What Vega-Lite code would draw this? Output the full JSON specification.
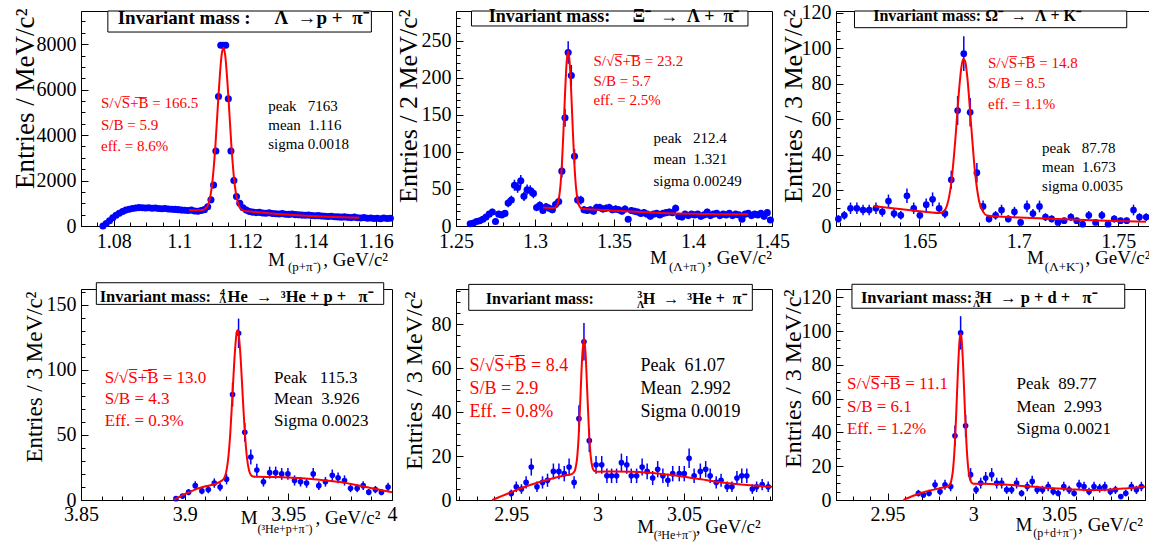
{
"$schema": "https://vega.github.io/schema/vega-lite/v6.json",
"padding": {"left": 10, "top": 2, "right": 0, "bottom": 0},
"background": "white",
"columns": 3,
"align": "none",
"bounds": "flush",
"spacing": {"row": 63, "column": 64},
"config": {
  "view": {"stroke": "black", "strokeWidth": 1},
  "axis": {"grid": false, "domainColor": "black", "domainWidth": 1, "tickColor": "black", "tickWidth": 1, "labelFont": "Liberation Serif", "labelFontSize": 20, "labelColor": "black", "titleFont": "Liberation Serif", "titleColor": "black", "titleFontWeight": "normal", "titleFontSize": 26, "labelFlush": false, "labelOverlap": false},
  "text": {"font": "Liberation Serif"}
},
"datasets": {
"p1": [{"x":1.0767,"y":0},{"x":1.0777,"y":110},{"x":1.0787,"y":230},{"x":1.0797,"y":360},{"x":1.0807,"y":470},{"x":1.0817,"y":560},{"x":1.0827,"y":640},{"x":1.0837,"y":700},{"x":1.0847,"y":740},{"x":1.0857,"y":770},{"x":1.0867,"y":790},{"x":1.0877,"y":810},{"x":1.0887,"y":800},{"x":1.0897,"y":790},{"x":1.0907,"y":800},{"x":1.0917,"y":780},{"x":1.0927,"y":790},{"x":1.0937,"y":770},{"x":1.0947,"y":760},{"x":1.0957,"y":770},{"x":1.0967,"y":750},{"x":1.0977,"y":740},{"x":1.0987,"y":730},{"x":1.0997,"y":720},{"x":1.1007,"y":700},{"x":1.1017,"y":690},{"x":1.1027,"y":680},{"x":1.1037,"y":700},{"x":1.1047,"y":660},{"x":1.1057,"y":650},{"x":1.1067,"y":680},{"x":1.1077,"y":720},{"x":1.1087,"y":850},{"x":1.1097,"y":1150},{"x":1.1105,"y":1800},{"x":1.1112,"y":3300},{"x":1.112,"y":5700},{"x":1.1127,"y":7950},{"x":1.1135,"y":7950},{"x":1.1142,"y":7950},{"x":1.115,"y":5600},{"x":1.1158,"y":3300},{"x":1.1167,"y":2000},{"x":1.1175,"y":1300},{"x":1.1185,"y":1000},{"x":1.1195,"y":800},{"x":1.1205,"y":700},{"x":1.1215,"y":640},{"x":1.1225,"y":610},{"x":1.1235,"y":590},{"x":1.1245,"y":600},{"x":1.1255,"y":570},{"x":1.1265,"y":560},{"x":1.1275,"y":580},{"x":1.1285,"y":550},{"x":1.1295,"y":540},{"x":1.1305,"y":530},{"x":1.1315,"y":545},{"x":1.1325,"y":520},{"x":1.1335,"y":510},{"x":1.1345,"y":530},{"x":1.1355,"y":500},{"x":1.1365,"y":490},{"x":1.1375,"y":480},{"x":1.1385,"y":470},{"x":1.1395,"y":480},{"x":1.1405,"y":460},{"x":1.1415,"y":450},{"x":1.1425,"y":455},{"x":1.1435,"y":440},{"x":1.1445,"y":430},{"x":1.1455,"y":420},{"x":1.1465,"y":430},{"x":1.1475,"y":410},{"x":1.1485,"y":400},{"x":1.1495,"y":390},{"x":1.1505,"y":400},{"x":1.1515,"y":380},{"x":1.1525,"y":370},{"x":1.1535,"y":390},{"x":1.1545,"y":360},{"x":1.1555,"y":350},{"x":1.1565,"y":370},{"x":1.1575,"y":340},{"x":1.1585,"y":350},{"x":1.1595,"y":330},{"x":1.1605,"y":340},{"x":1.1615,"y":320},{"x":1.1625,"y":350},{"x":1.1635,"y":330},{"x":1.1645,"y":340}],
"l1": [{"x":1.103,"y":690},{"x":1.106,"y":690},{"x":1.107,"y":700},{"x":1.108,"y":757},{"x":1.109,"y":1005},{"x":1.11,"y":1765},{"x":1.111,"y":3415},{"x":1.112,"y":5745},{"x":1.113,"y":7570},{"x":1.1135,"y":7843},{"x":1.114,"y":7565},{"x":1.115,"y":5740},{"x":1.116,"y":3400},{"x":1.117,"y":1750},{"x":1.118,"y":980},{"x":1.119,"y":727},{"x":1.12,"y":665},{"x":1.121,"y":650},{"x":1.125,"y":590},{"x":1.13,"y":530},{"x":1.135,"y":480},{"x":1.14,"y":440},{"x":1.145,"y":410},{"x":1.15,"y":380},{"x":1.155,"y":360}],
"p2": [{"x":1.259,"y":3,"e":1.7},{"x":1.261,"y":4,"e":2},{"x":1.263,"y":6,"e":2.4},{"x":1.265,"y":7,"e":2.6},{"x":1.267,"y":9,"e":3},{"x":1.269,"y":12,"e":3.5},{"x":1.271,"y":16,"e":4},{"x":1.273,"y":19,"e":4.4},{"x":1.275,"y":6,"e":2.4},{"x":1.277,"y":16,"e":4},{"x":1.279,"y":15,"e":3.9},{"x":1.281,"y":17,"e":4.1},{"x":1.283,"y":31,"e":5.6},{"x":1.285,"y":35,"e":5.9},{"x":1.287,"y":55,"e":7.4},{"x":1.289,"y":52,"e":7.2},{"x":1.291,"y":61,"e":7.8},{"x":1.293,"y":40,"e":6.3},{"x":1.295,"y":49,"e":7},{"x":1.297,"y":48,"e":6.9},{"x":1.299,"y":44,"e":6.6},{"x":1.301,"y":25,"e":5},{"x":1.303,"y":28,"e":5.3},{"x":1.305,"y":21,"e":4.6},{"x":1.307,"y":26,"e":5.1},{"x":1.309,"y":24,"e":4.9},{"x":1.311,"y":22,"e":4.7},{"x":1.313,"y":29,"e":5.4},{"x":1.315,"y":33,"e":5.7},{"x":1.317,"y":74,"e":8.6},{"x":1.319,"y":146,"e":12.1},{"x":1.321,"y":234,"e":15.3},{"x":1.323,"y":203,"e":14.2},{"x":1.325,"y":94,"e":9.7},{"x":1.327,"y":35,"e":5.9},{"x":1.329,"y":35,"e":5.9},{"x":1.331,"y":22,"e":4.7},{"x":1.333,"y":21,"e":4.6},{"x":1.335,"y":22,"e":4.7},{"x":1.337,"y":20,"e":4.5},{"x":1.339,"y":25,"e":5},{"x":1.341,"y":25,"e":5},{"x":1.343,"y":23,"e":4.8},{"x":1.345,"y":24,"e":4.9},{"x":1.347,"y":25,"e":5},{"x":1.349,"y":22,"e":4.7},{"x":1.351,"y":23,"e":4.8},{"x":1.353,"y":22,"e":4.7},{"x":1.355,"y":20,"e":4.5},{"x":1.357,"y":23,"e":4.8},{"x":1.359,"y":9,"e":3},{"x":1.361,"y":21,"e":4.6},{"x":1.363,"y":20,"e":4.5},{"x":1.365,"y":19,"e":4.4},{"x":1.367,"y":17,"e":4.1},{"x":1.369,"y":18,"e":4.2},{"x":1.371,"y":16,"e":4},{"x":1.373,"y":13,"e":3.6},{"x":1.375,"y":16,"e":4},{"x":1.377,"y":17,"e":4.1},{"x":1.379,"y":15,"e":3.9},{"x":1.381,"y":17,"e":4.1},{"x":1.383,"y":18,"e":4.2},{"x":1.385,"y":19,"e":4.4},{"x":1.387,"y":18,"e":4.2},{"x":1.389,"y":24,"e":4.9},{"x":1.391,"y":13,"e":3.6},{"x":1.393,"y":12,"e":3.5},{"x":1.395,"y":16,"e":4},{"x":1.397,"y":14,"e":3.7},{"x":1.399,"y":16,"e":4},{"x":1.401,"y":15,"e":3.9},{"x":1.403,"y":16,"e":4},{"x":1.405,"y":13,"e":3.6},{"x":1.407,"y":15,"e":3.9},{"x":1.409,"y":19,"e":4.4},{"x":1.411,"y":14,"e":3.7},{"x":1.413,"y":16,"e":4},{"x":1.415,"y":17,"e":4.1},{"x":1.417,"y":14,"e":3.7},{"x":1.419,"y":16,"e":4},{"x":1.421,"y":15,"e":3.9},{"x":1.423,"y":17,"e":4.1},{"x":1.425,"y":14,"e":3.7},{"x":1.427,"y":16,"e":4},{"x":1.429,"y":15,"e":3.9},{"x":1.431,"y":9,"e":3},{"x":1.433,"y":16,"e":4},{"x":1.435,"y":17,"e":4.1},{"x":1.437,"y":14,"e":3.7},{"x":1.439,"y":16,"e":4},{"x":1.441,"y":15,"e":3.9},{"x":1.443,"y":17,"e":4.1},{"x":1.445,"y":13,"e":3.6},{"x":1.447,"y":18,"e":4.2},{"x":1.449,"y":8,"e":2.8}],
"l2": [{"x":1.305,"y":25},{"x":1.308,"y":24.5},{"x":1.311,"y":24.3},{"x":1.312,"y":24.3},{"x":1.313,"y":25.2},{"x":1.314,"y":28},{"x":1.315,"y":35.7},{"x":1.316,"y":52},{"x":1.317,"y":82},{"x":1.318,"y":127},{"x":1.319,"y":178},{"x":1.32,"y":220},{"x":1.321,"y":236},{"x":1.322,"y":219},{"x":1.323,"y":177},{"x":1.324,"y":126},{"x":1.325,"y":81},{"x":1.326,"y":51},{"x":1.327,"y":34.7},{"x":1.328,"y":27},{"x":1.329,"y":24.2},{"x":1.33,"y":23.3},{"x":1.34,"y":21.8},{"x":1.35,"y":20.7},{"x":1.36,"y":19.6},{"x":1.37,"y":18.5},{"x":1.38,"y":17.6},{"x":1.39,"y":16.9},{"x":1.4,"y":16.4},{"x":1.41,"y":16.1},{"x":1.42,"y":15.9},{"x":1.435,"y":15.8}],
"p3": [{"x":1.6092,"y":4,"e":2},{"x":1.6122,"y":6,"e":2.4},{"x":1.6153,"y":10,"e":3.2},{"x":1.6185,"y":10,"e":3.2},{"x":1.6216,"y":9,"e":3},{"x":1.6247,"y":9,"e":3},{"x":1.6281,"y":10,"e":3.2},{"x":1.6313,"y":8,"e":2.8},{"x":1.6344,"y":14,"e":3.7},{"x":1.6372,"y":7,"e":2.6},{"x":1.6406,"y":6,"e":2.4},{"x":1.6437,"y":17,"e":4.1},{"x":1.6471,"y":10,"e":3.2},{"x":1.6502,"y":6,"e":2.4},{"x":1.6534,"y":12,"e":3.5},{"x":1.6566,"y":15,"e":3.9},{"x":1.6599,"y":10,"e":3.2},{"x":1.6628,"y":7,"e":2.6},{"x":1.666,"y":26,"e":5.1},{"x":1.6692,"y":65,"e":8.1},{"x":1.6723,"y":97,"e":9.8},{"x":1.6755,"y":64,"e":8},{"x":1.6789,"y":30,"e":5.5},{"x":1.682,"y":11,"e":3.3},{"x":1.685,"y":4,"e":2},{"x":1.6883,"y":6,"e":2.4},{"x":1.6913,"y":9,"e":3},{"x":1.6947,"y":4,"e":2},{"x":1.6978,"y":8,"e":2.8},{"x":1.7009,"y":2,"e":1.4},{"x":1.7041,"y":11,"e":3.3},{"x":1.7071,"y":7,"e":2.6},{"x":1.7104,"y":11,"e":3.3},{"x":1.7134,"y":5,"e":2.2},{"x":1.7165,"y":4,"e":2},{"x":1.7197,"y":2,"e":1.4},{"x":1.7228,"y":3,"e":1.7},{"x":1.7262,"y":5,"e":2.2},{"x":1.7291,"y":3,"e":1.7},{"x":1.7321,"y":1,"e":1},{"x":1.7352,"y":6,"e":2.4},{"x":1.7386,"y":2,"e":1.4},{"x":1.7418,"y":6,"e":2.4},{"x":1.7449,"y":1,"e":1},{"x":1.748,"y":4,"e":2},{"x":1.7512,"y":3,"e":1.7},{"x":1.7543,"y":3,"e":1.7},{"x":1.7577,"y":9,"e":3},{"x":1.7607,"y":5,"e":2.2},{"x":1.7641,"y":5,"e":2.2}],
"l3": [{"x":1.627,"y":11.2},{"x":1.64,"y":9.6},{"x":1.65,"y":8.3},{"x":1.655,"y":7.7},{"x":1.66,"y":7.3},{"x":1.662,"y":8.1},{"x":1.664,"y":12.1},{"x":1.666,"y":24.2},{"x":1.668,"y":48},{"x":1.67,"y":77.5},{"x":1.671,"y":88.6},{"x":1.672,"y":94.1},{"x":1.673,"y":92.7},{"x":1.674,"y":84.6},{"x":1.676,"y":56.7},{"x":1.678,"y":29.7},{"x":1.68,"y":14.1},{"x":1.682,"y":8.1},{"x":1.684,"y":5.9},{"x":1.69,"y":5.3},{"x":1.7,"y":4.8},{"x":1.72,"y":3.9},{"x":1.74,"y":3.1},{"x":1.764,"y":2.4}],
"p4": [{"x":3.8958,"y":1,"e":1},{"x":3.899,"y":3,"e":1.7},{"x":3.9019,"y":6,"e":2.4},{"x":3.9051,"y":11,"e":3.3},{"x":3.9083,"y":7,"e":2.6},{"x":3.9114,"y":8,"e":2.8},{"x":3.9143,"y":13,"e":3.6},{"x":3.9171,"y":10,"e":3.2},{"x":3.9202,"y":16,"e":4},{"x":3.9231,"y":81,"e":9},{"x":3.926,"y":128,"e":11.3},{"x":3.929,"y":52,"e":7.2},{"x":3.9319,"y":33,"e":5.7},{"x":3.9348,"y":23,"e":4.8},{"x":3.938,"y":14,"e":3.7},{"x":3.941,"y":21,"e":4.6},{"x":3.9439,"y":21,"e":4.6},{"x":3.9468,"y":20,"e":4.5},{"x":3.9498,"y":20,"e":4.5},{"x":3.953,"y":15,"e":3.9},{"x":3.9559,"y":14,"e":3.7},{"x":3.9588,"y":13,"e":3.6},{"x":3.962,"y":20,"e":4.5},{"x":3.9647,"y":11,"e":3.3},{"x":3.9679,"y":14,"e":3.7},{"x":3.9712,"y":19,"e":4.4},{"x":3.974,"y":17,"e":4.1},{"x":3.9771,"y":15,"e":3.9},{"x":3.98,"y":9,"e":3},{"x":3.9832,"y":9,"e":3},{"x":3.9861,"y":11,"e":3.3},{"x":3.9888,"y":6,"e":2.4},{"x":3.992,"y":8,"e":2.8},{"x":3.9949,"y":6,"e":2.4},{"x":3.9981,"y":10,"e":3.2}],
"l4": [{"x":3.895,"y":0.3},{"x":3.9,"y":4.5},{"x":3.905,"y":8},{"x":3.91,"y":10.5},{"x":3.915,"y":12.5},{"x":3.918,"y":15},{"x":3.919,"y":16.6},{"x":3.92,"y":21.2},{"x":3.921,"y":31.8},{"x":3.922,"y":51.2},{"x":3.923,"y":79},{"x":3.924,"y":108.2},{"x":3.925,"y":127.6},{"x":3.9255,"y":130.3},{"x":3.926,"y":127.8},{"x":3.927,"y":108.8},{"x":3.928,"y":79.7},{"x":3.929,"y":52.2},{"x":3.93,"y":33.2},{"x":3.931,"y":23.1},{"x":3.932,"y":19.1},{"x":3.933,"y":18},{"x":3.935,"y":17.8},{"x":3.945,"y":17.6},{"x":3.955,"y":16.8},{"x":3.965,"y":15.5},{"x":3.975,"y":13.8},{"x":3.985,"y":10.8},{"x":3.995,"y":7.5},{"x":4.0,"y":6}],
"p5": [{"x":2.95,"y":3,"e":1.7},{"x":2.9529,"y":6,"e":2.4},{"x":2.9559,"y":5,"e":2.2},{"x":2.9586,"y":8,"e":2.8},{"x":2.9616,"y":15,"e":3.9},{"x":2.9649,"y":6,"e":2.4},{"x":2.9681,"y":8,"e":2.8},{"x":2.971,"y":9,"e":3},{"x":2.9744,"y":13,"e":3.6},{"x":2.9776,"y":13,"e":3.6},{"x":2.9807,"y":12,"e":3.5},{"x":2.9835,"y":15,"e":3.9},{"x":2.9864,"y":8,"e":2.8},{"x":2.9892,"y":37,"e":6.1},{"x":2.9921,"y":72,"e":8.5},{"x":2.9952,"y":27,"e":5.2},{"x":2.9991,"y":16,"e":4},{"x":3.0024,"y":16,"e":4},{"x":3.0054,"y":11,"e":3.3},{"x":3.0081,"y":11,"e":3.3},{"x":3.011,"y":11,"e":3.3},{"x":3.0138,"y":17,"e":4.1},{"x":3.0169,"y":16,"e":4},{"x":3.0195,"y":11,"e":3.3},{"x":3.0226,"y":11,"e":3.3},{"x":3.0258,"y":15,"e":3.9},{"x":3.0287,"y":13,"e":3.6},{"x":3.0319,"y":10,"e":3.2},{"x":3.0348,"y":14,"e":3.7},{"x":3.0378,"y":11,"e":3.3},{"x":3.0407,"y":9,"e":3},{"x":3.0435,"y":12,"e":3.5},{"x":3.0473,"y":12,"e":3.5},{"x":3.0502,"y":12,"e":3.5},{"x":3.053,"y":19,"e":4.4},{"x":3.0559,"y":11,"e":3.3},{"x":3.0595,"y":13,"e":3.6},{"x":3.0626,"y":14,"e":3.7},{"x":3.0652,"y":11,"e":3.3},{"x":3.0687,"y":8,"e":2.8},{"x":3.0715,"y":9,"e":3},{"x":3.075,"y":6,"e":2.4},{"x":3.0778,"y":6,"e":2.4},{"x":3.0807,"y":10,"e":3.2},{"x":3.0835,"y":11,"e":3.3},{"x":3.0864,"y":11,"e":3.3},{"x":3.0896,"y":5,"e":2.2},{"x":3.0921,"y":6,"e":2.4},{"x":3.0953,"y":7,"e":2.6},{"x":3.0988,"y":6,"e":2.4}],
"l5": [{"x":2.939,"y":0},{"x":2.95,"y":3.6},{"x":2.96,"y":6.6},{"x":2.97,"y":9},{"x":2.98,"y":11},{"x":2.985,"y":11.8},{"x":2.986,"y":12.4},{"x":2.987,"y":13.8},{"x":2.988,"y":18.1},{"x":2.989,"y":28.4},{"x":2.99,"y":45.4},{"x":2.991,"y":64},{"x":2.9921,"y":73.5},{"x":2.993,"y":67.1},{"x":2.994,"y":49.5},{"x":2.995,"y":31.6},{"x":2.996,"y":20},{"x":2.997,"y":14.9},{"x":2.998,"y":13.3},{"x":3.0,"y":12.9},{"x":3.01,"y":13},{"x":3.02,"y":12.9},{"x":3.03,"y":12.4},{"x":3.04,"y":11.6},{"x":3.05,"y":10.6},{"x":3.06,"y":9.4},{"x":3.07,"y":8.2},{"x":3.08,"y":7.3},{"x":3.09,"y":6.6},{"x":3.101,"y":6}],
"p6": [{"x":2.968,"y":4,"e":2},{"x":2.9709,"y":3,"e":1.7},{"x":2.9742,"y":4,"e":2},{"x":2.9777,"y":9,"e":3},{"x":2.9806,"y":5,"e":2.2},{"x":2.9835,"y":9,"e":3},{"x":2.9868,"y":8,"e":2.8},{"x":2.9893,"y":38,"e":6.2},{"x":2.9926,"y":99,"e":9.9},{"x":2.9955,"y":44,"e":6.6},{"x":2.9984,"y":15,"e":3.9},{"x":3.0016,"y":6,"e":2.4},{"x":3.0043,"y":10,"e":3.2},{"x":3.0072,"y":13,"e":3.6},{"x":3.0107,"y":15,"e":3.9},{"x":3.0136,"y":10,"e":3.2},{"x":3.0165,"y":10,"e":3.2},{"x":3.0194,"y":6,"e":2.4},{"x":3.0223,"y":6,"e":2.4},{"x":3.0252,"y":10,"e":3.2},{"x":3.0281,"y":4,"e":2},{"x":3.0314,"y":8,"e":2.8},{"x":3.0343,"y":11,"e":3.3},{"x":3.0372,"y":6,"e":2.4},{"x":3.0403,"y":6,"e":2.4},{"x":3.0436,"y":8,"e":2.8},{"x":3.0465,"y":5,"e":2.2},{"x":3.0494,"y":4,"e":2},{"x":3.0527,"y":8,"e":2.8},{"x":3.0558,"y":6,"e":2.4},{"x":3.0587,"y":4,"e":2},{"x":3.0616,"y":9,"e":3},{"x":3.0645,"y":8,"e":2.8},{"x":3.0674,"y":5,"e":2.2},{"x":3.0703,"y":8,"e":2.8},{"x":3.0736,"y":7,"e":2.6},{"x":3.0766,"y":8,"e":2.8},{"x":3.0798,"y":5,"e":2.2},{"x":3.0828,"y":6,"e":2.4},{"x":3.0859,"y":2,"e":1.4},{"x":3.0888,"y":4,"e":2},{"x":3.0921,"y":8,"e":2.8},{"x":3.095,"y":6,"e":2.4},{"x":3.0979,"y":8,"e":2.8}],
"l6": [{"x":2.9593,"y":0},{"x":2.965,"y":2.5},{"x":2.97,"y":4.3},{"x":2.975,"y":5.7},{"x":2.98,"y":6.9},{"x":2.985,"y":8},{"x":2.986,"y":8.7},{"x":2.987,"y":10.8},{"x":2.988,"y":16.5},{"x":2.989,"y":29.1},{"x":2.99,"y":50.2},{"x":2.991,"y":75.8},{"x":2.992,"y":94.9},{"x":2.9926,"y":98.5},{"x":2.993,"y":96.9},{"x":2.994,"y":80.8},{"x":2.995,"y":55.7},{"x":2.996,"y":33.3},{"x":2.997,"y":19.2},{"x":2.998,"y":12.6},{"x":2.999,"y":10.3},{"x":3.0,"y":9.7},{"x":3.01,"y":9.5},{"x":3.02,"y":9},{"x":3.03,"y":8.2},{"x":3.04,"y":7.4},{"x":3.05,"y":6.8},{"x":3.06,"y":6.2},{"x":3.07,"y":5.9},{"x":3.08,"y":6.2},{"x":3.09,"y":7},{"x":3.1,"y":7.9}]
},
"concat": [
{
"width": 311, "height": 215,
"resolve": {"axis": {"x": "independent", "y": "independent"}},
"layer": [
 {"data": {"name": "p1"}, "mark": {"type": "point", "filled": true, "size": 50, "color": "#0000ff", "opacity": 1},
  "encoding": {
   "x": {"field": "x", "type": "quantitative", "scale": {"domain": [1.07, 1.165], "nice": false, "zero": false}, "axis": {"orient": "bottom", "values": [1.08,1.1,1.12,1.14,1.16], "format": "~r", "title": null, "tickSize": -7, "labelPadding": 12}},
   "y": {"field": "y", "type": "quantitative", "scale": {"domain": [0, 9460], "nice": false, "zero": false}, "axis": {"orient": "left", "values": [0,2000,4000,6000,8000], "format": "~r", "title": "Entries / MeV/c²", "titleFontSize": 27, "tickSize": -7, "labelPadding": 12, "titleX": -48, "titleY": -3, "titleAngle": 270, "titleAlign": "right", "titleBaseline": "alphabetic"}}
  }},
 {"data": {"name": "l1"}, "mark": {"type": "line", "color": "#ff0000", "strokeWidth": 2, "interpolate": "monotone"},
  "encoding": {
   "x": {"field": "x", "type": "quantitative", "axis": {"orient": "bottom", "values": [1.07,1.075,1.085,1.09,1.095,1.105,1.11,1.115,1.125,1.13,1.135,1.145,1.15,1.155,1.165], "labels": false, "domain": false, "tickSize": -4, "title": null}},
   "y": {"field": "y", "type": "quantitative", "axis": {"orient": "left", "values": [500,1000,1500,2500,3000,3500,4500,5000,5500,6500,7000,7500,8500,9000], "labels": false, "domain": false, "tickSize": -4, "title": null}}
  }},
 {"data": {"values": [{}]}, "mark": {"type": "rect", "fill": "white", "stroke": "black", "strokeWidth": 1},
  "encoding": {"x": {"datum": 1.0782, "type": "quantitative", "axis": null}, "x2": {"datum": 1.1587}, "y": {"datum": 8535, "type": "quantitative", "axis": null}, "y2": {"datum": 9460}}},
 {"data": {"values": [{}]}, "mark": {"type": "text", "text": "Invariant mass :\u00a0\u00a0\u00a0\u00a0\u00a0Λ\u00a0\u00a0→p +\u00a0\u00a0π⁻", "align": "left", "baseline": "alphabetic", "fontSize": 19, "fontWeight": "bold", "color": "black"},
  "encoding": {"x": {"datum": 1.0812, "type": "quantitative", "axis": null}, "y": {"datum": 8874, "type": "quantitative", "axis": null}}},
 {"data": {"values": [{}]}, "mark": {"type": "text", "text": ["S/√S̅+̅B̅ = 166.5", "S/B = 5.9", "eff. = 8.6%"], "lineHeight": 21.5, "align": "left", "baseline": "alphabetic", "fontSize": 15, "color": "#ff0000"},
  "encoding": {"x": {"datum": 1.0761, "type": "quantitative", "axis": null}, "y": {"datum": 5191, "type": "quantitative", "axis": null}}},
 {"data": {"values": [{}]}, "mark": {"type": "text", "text": ["peak\u00a0\u00a0\u00a07163", "mean\u00a0\u00a01.116", "sigma 0.0018"], "lineHeight": 19, "align": "left", "baseline": "alphabetic", "fontSize": 15, "color": "black"},
  "encoding": {"x": {"datum": 1.1272, "type": "quantitative", "axis": null}, "y": {"datum": 5059, "type": "quantitative", "axis": null}}},
 {"data": {"values": [{}]}, "mark": {"type": "text", "text": "M", "align": "left", "baseline": "alphabetic", "fontSize": 19, "color": "black"},
  "encoding": {"x": {"datum": 1.1271, "type": "quantitative", "axis": null}, "y": {"datum": -1760, "type": "quantitative", "axis": null}}},
 {"data": {"values": [{}]}, "mark": {"type": "text", "text": "(p+π⁻)", "align": "left", "baseline": "alphabetic", "fontSize": 13, "color": "black"},
  "encoding": {"x": {"datum": 1.1332, "type": "quantitative", "axis": null}, "y": {"datum": -1980, "type": "quantitative", "axis": null}}},
 {"data": {"values": [{}]}, "mark": {"type": "text", "text": ", GeV/c²", "align": "right", "baseline": "alphabetic", "fontSize": 19, "color": "black"},
  "encoding": {"x": {"datum": 1.1638, "type": "quantitative", "axis": null}, "y": {"datum": -1760, "type": "quantitative", "axis": null}}}
]
},
{
"width": 316, "height": 215,
"resolve": {"axis": {"x": "independent", "y": "independent"}},
"layer": [
 {"data": {"name": "p2"}, "mark": {"type": "errorbar", "color": "#0000ff", "thickness": 1.5},
  "encoding": {"x": {"field": "x", "type": "quantitative", "axis": null}, "y": {"field": "y", "type": "quantitative", "axis": null}, "yError": {"field": "e"}}},
 {"data": {"name": "p2"}, "mark": {"type": "point", "filled": true, "size": 50, "color": "#0000ff", "opacity": 1},
  "encoding": {
   "x": {"field": "x", "type": "quantitative", "scale": {"domain": [1.25, 1.45], "nice": false, "zero": false}, "axis": {"orient": "bottom", "values": [1.25,1.3,1.35,1.4,1.45], "format": "~r", "title": null, "tickSize": -7, "labelPadding": 12}},
   "y": {"field": "y", "type": "quantitative", "scale": {"domain": [0, 290], "nice": false, "zero": false}, "axis": {"orient": "left", "values": [0,50,100,150,200,250], "format": "~r", "title": "Entries / 2 MeV/c²", "tickSize": -7, "labelPadding": 12, "titleX": -40, "titleY": -2, "titleAngle": 270, "titleAlign": "right", "titleBaseline": "alphabetic"}}
  }},
 {"data": {"name": "l2"}, "mark": {"type": "line", "color": "#ff0000", "strokeWidth": 2, "interpolate": "monotone"},
  "encoding": {
   "x": {"field": "x", "type": "quantitative", "axis": {"orient": "bottom", "values": [1.26,1.27,1.28,1.29,1.31,1.32,1.33,1.34,1.36,1.37,1.38,1.39,1.41,1.42,1.43,1.44], "labels": false, "domain": false, "tickSize": -4, "title": null}},
   "y": {"field": "y", "type": "quantitative", "axis": {"orient": "left", "values": [10,20,30,40,60,70,80,90,110,120,130,140,160,170,180,190,210,220,230,240,260,270,280], "labels": false, "domain": false, "tickSize": -4, "title": null}}
  }},
 {"data": {"values": [{}]}, "mark": {"type": "rect", "fill": "white", "stroke": "black", "strokeWidth": 1},
  "encoding": {"x": {"datum": 1.2598, "type": "quantitative", "axis": null}, "x2": {"datum": 1.4348}, "y": {"datum": 269.8, "type": "quantitative", "axis": null}, "y2": {"datum": 290}}},
 {"data": {"values": [{}]}, "mark": {"type": "text", "text": "Invariant mass:\u00a0\u00a0\u00a0\u00a0\u00a0Ξ⁻\u00a0\u00a0→\u00a0\u00a0Λ +\u00a0\u00a0π⁻", "align": "left", "baseline": "alphabetic", "fontSize": 18, "fontWeight": "bold", "color": "black"},
  "encoding": {"x": {"datum": 1.2707, "type": "quantitative", "axis": null}, "y": {"datum": 275.6, "type": "quantitative", "axis": null}}},
 {"data": {"values": [{}]}, "mark": {"type": "text", "text": ["S/√S̅+̅B̅ = 23.2", "S/B = 5.7", "eff. = 2.5%"], "lineHeight": 19.5, "align": "left", "baseline": "alphabetic", "fontSize": 15, "color": "#ff0000"},
  "encoding": {"x": {"datum": 1.337, "type": "quantitative", "axis": null}, "y": {"datum": 215.8, "type": "quantitative", "axis": null}}},
 {"data": {"values": [{}]}, "mark": {"type": "text", "text": ["peak\u00a0\u00a0\u00a0212.4", "mean\u00a0\u00a01.321", "sigma 0.00249"], "lineHeight": 21.5, "align": "left", "baseline": "alphabetic", "fontSize": 15, "color": "black"},
  "encoding": {"x": {"datum": 1.375, "type": "quantitative", "axis": null}, "y": {"datum": 112, "type": "quantitative", "axis": null}}},
 {"data": {"values": [{}]}, "mark": {"type": "text", "text": "M", "align": "left", "baseline": "alphabetic", "fontSize": 19, "color": "black"},
  "encoding": {"x": {"datum": 1.3728, "type": "quantitative", "axis": null}, "y": {"datum": -51.3, "type": "quantitative", "axis": null}}},
 {"data": {"values": [{}]}, "mark": {"type": "text", "text": "(Λ+π⁻)", "align": "left", "baseline": "alphabetic", "fontSize": 13, "color": "black"},
  "encoding": {"x": {"datum": 1.3848, "type": "quantitative", "axis": null}, "y": {"datum": -60.7, "type": "quantitative", "axis": null}}},
 {"data": {"values": [{}]}, "mark": {"type": "text", "text": ", GeV/c²", "align": "right", "baseline": "alphabetic", "fontSize": 19, "color": "black"},
  "encoding": {"x": {"datum": 1.45, "type": "quantitative", "axis": null}, "y": {"datum": -51.3, "type": "quantitative", "axis": null}}}
]
},
{
"width": 314, "height": 215,
"resolve": {"axis": {"x": "independent", "y": "independent"}},
"layer": [
 {"data": {"name": "p3"}, "mark": {"type": "errorbar", "color": "#0000ff", "thickness": 1.5},
  "encoding": {"x": {"field": "x", "type": "quantitative", "axis": null}, "y": {"field": "y", "type": "quantitative", "axis": null}, "yError": {"field": "e"}}},
 {"data": {"name": "p3"}, "mark": {"type": "point", "filled": true, "size": 45, "color": "#0000ff", "opacity": 1},
  "encoding": {
   "x": {"field": "x", "type": "quantitative", "scale": {"domain": [1.608, 1.766], "nice": false, "zero": false}, "axis": {"orient": "bottom", "values": [1.65,1.7,1.75], "format": "~r", "title": null, "tickSize": -7, "labelPadding": 12}},
   "y": {"field": "y", "type": "quantitative", "scale": {"domain": [0, 121], "nice": false, "zero": false}, "axis": {"orient": "left", "values": [0,20,40,60,80,100,120], "format": "~r", "title": "Entries / 3 MeV/c²", "tickSize": -7, "labelPadding": 12, "titleX": -35, "titleY": -2, "titleAngle": 270, "titleAlign": "right", "titleBaseline": "alphabetic"}}
  }},
 {"data": {"name": "l3"}, "mark": {"type": "line", "color": "#ff0000", "strokeWidth": 2, "interpolate": "monotone"},
  "encoding": {
   "x": {"field": "x", "type": "quantitative", "axis": {"orient": "bottom", "values": [1.61,1.62,1.63,1.64,1.66,1.67,1.68,1.69,1.71,1.72,1.73,1.74,1.76], "labels": false, "domain": false, "tickSize": -4, "title": null}},
   "y": {"field": "y", "type": "quantitative", "axis": {"orient": "left", "values": [5,10,15,25,30,35,45,50,55,65,70,75,85,90,95,105,110,115], "labels": false, "domain": false, "tickSize": -4, "title": null}}
  }},
 {"data": {"values": [{}]}, "mark": {"type": "rect", "fill": "white", "stroke": "black", "strokeWidth": 1},
  "encoding": {"x": {"datum": 1.6173, "type": "quantitative", "axis": null}, "x2": {"datum": 1.7543}, "y": {"datum": 111.6, "type": "quantitative", "axis": null}, "y2": {"datum": 121}}},
 {"data": {"values": [{}]}, "mark": {"type": "text", "text": "Invariant mass:\u00a0Ω⁻\u00a0\u00a0→\u00a0\u00a0Λ + K⁻", "align": "left", "baseline": "alphabetic", "fontSize": 16, "fontWeight": "bold", "color": "black"},
  "encoding": {"x": {"datum": 1.6267, "type": "quantitative", "axis": null}, "y": {"datum": 115.4, "type": "quantitative", "axis": null}}},
 {"data": {"values": [{}]}, "mark": {"type": "text", "text": ["S/√S̅+̅B̅ = 14.8", "S/B = 8.5", "eff. = 1.1%"], "lineHeight": 20.5, "align": "left", "baseline": "alphabetic", "fontSize": 15, "color": "#ff0000"},
  "encoding": {"x": {"datum": 1.6845, "type": "quantitative", "axis": null}, "y": {"datum": 89.2, "type": "quantitative", "axis": null}}},
 {"data": {"values": [{}]}, "mark": {"type": "text", "text": ["peak\u00a0\u00a0\u00a087.78", "mean\u00a0\u00a01.673", "sigma 0.0035"], "lineHeight": 19, "align": "left", "baseline": "alphabetic", "fontSize": 15, "color": "black"},
  "encoding": {"x": {"datum": 1.7117, "type": "quantitative", "axis": null}, "y": {"datum": 41.2, "type": "quantitative", "axis": null}}},
 {"data": {"values": [{}]}, "mark": {"type": "text", "text": "M", "align": "left", "baseline": "alphabetic", "fontSize": 19, "color": "black"},
  "encoding": {"x": {"datum": 1.7041, "type": "quantitative", "axis": null}, "y": {"datum": -21.4, "type": "quantitative", "axis": null}}},
 {"data": {"values": [{}]}, "mark": {"type": "text", "text": "(Λ+K⁻)", "align": "left", "baseline": "alphabetic", "fontSize": 13, "color": "black"},
  "encoding": {"x": {"datum": 1.7131, "type": "quantitative", "axis": null}, "y": {"datum": -25.3, "type": "quantitative", "axis": null}}},
 {"data": {"values": [{}]}, "mark": {"type": "text", "text": ", GeV/c²", "align": "right", "baseline": "alphabetic", "fontSize": 19, "color": "black"},
  "encoding": {"x": {"datum": 1.7662, "type": "quantitative", "axis": null}, "y": {"datum": -21.4, "type": "quantitative", "axis": null}}}
]
},
{
"width": 311, "height": 211,
"resolve": {"axis": {"x": "independent", "y": "independent"}},
"layer": [
 {"data": {"name": "p4"}, "mark": {"type": "errorbar", "color": "#0000ff", "thickness": 1.5},
  "encoding": {"x": {"field": "x", "type": "quantitative", "axis": null}, "y": {"field": "y", "type": "quantitative", "axis": null}, "yError": {"field": "e"}}},
 {"data": {"name": "p4"}, "mark": {"type": "point", "filled": true, "size": 32, "color": "#0000ff", "opacity": 1},
  "encoding": {
   "x": {"field": "x", "type": "quantitative", "scale": {"domain": [3.85, 4.0], "nice": false, "zero": false}, "axis": {"orient": "bottom", "values": [3.85,3.9,3.95,4], "format": "~r", "title": null, "tickSize": -7, "labelPadding": 11}},
   "y": {"field": "y", "type": "quantitative", "scale": {"domain": [0, 162], "nice": false, "zero": false}, "axis": {"orient": "left", "values": [0,50,100,150], "format": "~r", "title": "Entries / 3 MeV/c²", "titleFontSize": 23, "tickSize": -7, "labelPadding": 12, "titleX": -40, "titleY": 2, "titleAngle": 270, "titleAlign": "right", "titleBaseline": "alphabetic"}}
  }},
 {"data": {"name": "l4"}, "mark": {"type": "line", "color": "#ff0000", "strokeWidth": 2, "interpolate": "monotone"},
  "encoding": {
   "x": {"field": "x", "type": "quantitative", "axis": {"orient": "bottom", "values": [3.86,3.87,3.88,3.89,3.91,3.92,3.93,3.94,3.96,3.97,3.98,3.99], "labels": false, "domain": false, "tickSize": -4, "title": null}},
   "y": {"field": "y", "type": "quantitative", "axis": {"orient": "left", "values": [10,20,30,40,60,70,80,90,110,120,130,140,160], "labels": false, "domain": false, "tickSize": -4, "title": null}}
  }},
 {"data": {"values": [{}]}, "mark": {"type": "rect", "fill": "white", "stroke": "black", "strokeWidth": 1},
  "encoding": {"x": {"datum": 3.8574, "type": "quantitative", "axis": null}, "x2": {"datum": 3.996}, "y": {"datum": 150.2, "type": "quantitative", "axis": null}, "y2": {"datum": 166.8}}},
 {"data": {"values": [{}]}, "mark": {"type": "text", "text": "Invariant mass:", "align": "left", "baseline": "alphabetic", "fontSize": 16.5, "fontWeight": "bold", "color": "black"},
  "encoding": {"x": {"datum": 3.859, "type": "quantitative", "axis": null}, "y": {"datum": 152, "type": "quantitative", "axis": null}}},
 {"data": {"values": [{}]}, "mark": {"type": "text", "text": "4", "align": "left", "baseline": "alphabetic", "fontSize": 10, "fontWeight": "bold", "color": "black"},
  "encoding": {"x": {"datum": 3.917, "type": "quantitative", "axis": null}, "y": {"datum": 156.6, "type": "quantitative", "axis": null}}},
 {"data": {"values": [{}]}, "mark": {"type": "text", "text": "Λ", "align": "center", "baseline": "alphabetic", "fontSize": 10, "fontWeight": "bold", "color": "black"},
  "encoding": {"x": {"datum": 3.9184, "type": "quantitative", "axis": null}, "y": {"datum": 150.9, "type": "quantitative", "axis": null}}},
 {"data": {"values": [{}]}, "mark": {"type": "text", "text": "He\u00a0\u00a0→\u00a0\u00a0³He + p +\u00a0\u00a0\u00a0π⁻", "align": "left", "baseline": "alphabetic", "fontSize": 16.5, "fontWeight": "bold", "color": "black"},
  "encoding": {"x": {"datum": 3.9207, "type": "quantitative", "axis": null}, "y": {"datum": 152, "type": "quantitative", "axis": null}}},
 {"data": {"values": [{}]}, "mark": {"type": "text", "text": ["S/√S̅+̅B̅ = 13.0", "S/B = 4.3", "Eff. = 0.3%"], "lineHeight": 21.5, "align": "left", "baseline": "alphabetic", "fontSize": 17, "color": "#ff0000"},
  "encoding": {"x": {"datum": 3.8614, "type": "quantitative", "axis": null}, "y": {"datum": 90.1, "type": "quantitative", "axis": null}}},
 {"data": {"values": [{}]}, "mark": {"type": "text", "text": ["Peak\u00a0\u00a0\u00a0115.3", "Mean\u00a0\u00a03.926", "Sigma 0.0023"], "lineHeight": 21.5, "align": "left", "baseline": "alphabetic", "fontSize": 17, "color": "black"},
  "encoding": {"x": {"datum": 3.9431, "type": "quantitative", "axis": null}, "y": {"datum": 90.1, "type": "quantitative", "axis": null}}},
 {"data": {"values": [{}]}, "mark": {"type": "text", "text": "M", "align": "left", "baseline": "alphabetic", "fontSize": 19, "color": "black"},
  "encoding": {"x": {"datum": 3.9271, "type": "quantitative", "axis": null}, "y": {"datum": -18.7, "type": "quantitative", "axis": null}}},
 {"data": {"values": [{}]}, "mark": {"type": "text", "text": "(³He+p+π⁻)", "align": "left", "baseline": "alphabetic", "fontSize": 12, "color": "black"},
  "encoding": {"x": {"datum": 3.9351, "type": "quantitative", "axis": null}, "y": {"datum": -25.1, "type": "quantitative", "axis": null}}},
 {"data": {"values": [{}]}, "mark": {"type": "text", "text": ", GeV/c²", "align": "right", "baseline": "alphabetic", "fontSize": 19, "color": "black"},
  "encoding": {"x": {"datum": 3.9944, "type": "quantitative", "axis": null}, "y": {"datum": -18.7, "type": "quantitative", "axis": null}}}
]
},
{
"width": 316, "height": 211,
"resolve": {"axis": {"x": "independent", "y": "independent"}},
"layer": [
 {"data": {"name": "p5"}, "mark": {"type": "errorbar", "color": "#0000ff", "thickness": 1.5},
  "encoding": {"x": {"field": "x", "type": "quantitative", "axis": null}, "y": {"field": "y", "type": "quantitative", "axis": null}, "yError": {"field": "e"}}},
 {"data": {"name": "p5"}, "mark": {"type": "point", "filled": true, "size": 32, "color": "#0000ff", "opacity": 1},
  "encoding": {
   "x": {"field": "x", "type": "quantitative", "scale": {"domain": [2.918, 3.101], "nice": false, "zero": false}, "axis": {"orient": "bottom", "values": [2.95,3,3.05], "format": "~r", "title": null, "tickSize": -7, "labelPadding": 11}},
   "y": {"field": "y", "type": "quantitative", "scale": {"domain": [0, 96], "nice": false, "zero": false}, "axis": {"orient": "left", "values": [0,20,40,60,80], "format": "~r", "title": "Entries / 3 MeV/c²", "titleFontSize": 24, "tickSize": -7, "labelPadding": 12, "titleX": -35, "titleY": 2, "titleAngle": 270, "titleAlign": "right", "titleBaseline": "alphabetic"}}
  }},
 {"data": {"name": "l5"}, "mark": {"type": "line", "color": "#ff0000", "strokeWidth": 2, "interpolate": "monotone"},
  "encoding": {
   "x": {"field": "x", "type": "quantitative", "axis": {"orient": "bottom", "values": [2.92,2.93,2.94,2.96,2.97,2.98,2.99,3.01,3.02,3.03,3.04,3.06,3.07,3.08,3.09,3.1], "labels": false, "domain": false, "tickSize": -4, "title": null}},
   "y": {"field": "y", "type": "quantitative", "axis": {"orient": "left", "values": [5,10,15,25,30,35,45,50,55,65,70,75,85,90,95], "labels": false, "domain": false, "tickSize": -4, "title": null}}
  }},
 {"data": {"values": [{}]}, "mark": {"type": "rect", "fill": "white", "stroke": "black", "strokeWidth": 1},
  "encoding": {"x": {"datum": 2.9254, "type": "quantitative", "axis": null}, "x2": {"datum": 3.0896}, "y": {"datum": 86.3, "type": "quantitative", "axis": null}, "y2": {"datum": 98.1}}},
 {"data": {"values": [{}]}, "mark": {"type": "text", "text": "Invariant mass:", "align": "left", "baseline": "alphabetic", "fontSize": 16, "fontWeight": "bold", "color": "black"},
  "encoding": {"x": {"datum": 2.9353, "type": "quantitative", "axis": null}, "y": {"datum": 89.2, "type": "quantitative", "axis": null}}},
 {"data": {"values": [{}]}, "mark": {"type": "text", "text": "3", "align": "left", "baseline": "alphabetic", "fontSize": 10, "fontWeight": "bold", "color": "black"},
  "encoding": {"x": {"datum": 3.023, "type": "quantitative", "axis": null}, "y": {"datum": 92.0, "type": "quantitative", "axis": null}}},
 {"data": {"values": [{}]}, "mark": {"type": "text", "text": "Λ", "align": "center", "baseline": "alphabetic", "fontSize": 10, "fontWeight": "bold", "color": "black"},
  "encoding": {"x": {"datum": 3.0249, "type": "quantitative", "axis": null}, "y": {"datum": 87.2, "type": "quantitative", "axis": null}}},
 {"data": {"values": [{}]}, "mark": {"type": "text", "text": "H\u00a0\u00a0→\u00a0\u00a0³He +\u00a0\u00a0π⁻", "align": "left", "baseline": "alphabetic", "fontSize": 16, "fontWeight": "bold", "color": "black"},
  "encoding": {"x": {"datum": 3.0262, "type": "quantitative", "axis": null}, "y": {"datum": 89.2, "type": "quantitative", "axis": null}}},
 {"data": {"values": [{}]}, "mark": {"type": "text", "text": ["S/√S̅+̅B̅ = 8.4", "S/B = 2.9", "Eff. = 0.8%"], "lineHeight": 23, "align": "left", "baseline": "alphabetic", "fontSize": 18, "color": "#ff0000"},
  "encoding": {"x": {"datum": 2.9258, "type": "quantitative", "axis": null}, "y": {"datum": 58.7, "type": "quantitative", "axis": null}}},
 {"data": {"values": [{}]}, "mark": {"type": "text", "text": ["Peak\u00a0\u00a061.07", "Mean\u00a0\u00a02.992", "Sigma 0.0019"], "lineHeight": 23, "align": "left", "baseline": "alphabetic", "fontSize": 18, "color": "black"},
  "encoding": {"x": {"datum": 3.0249, "type": "quantitative", "axis": null}, "y": {"datum": 58.7, "type": "quantitative", "axis": null}}},
 {"data": {"values": [{}]}, "mark": {"type": "text", "text": "M", "align": "left", "baseline": "alphabetic", "fontSize": 19, "color": "black"},
  "encoding": {"x": {"datum": 3.023, "type": "quantitative", "axis": null}, "y": {"datum": -15.2, "type": "quantitative", "axis": null}}},
 {"data": {"values": [{}]}, "mark": {"type": "text", "text": "(³He+π⁻)", "align": "left", "baseline": "alphabetic", "fontSize": 12, "color": "black"},
  "encoding": {"x": {"datum": 3.0325, "type": "quantitative", "axis": null}, "y": {"datum": -17.7, "type": "quantitative", "axis": null}}},
 {"data": {"values": [{}]}, "mark": {"type": "text", "text": ", GeV/c²", "align": "right", "baseline": "alphabetic", "fontSize": 19, "color": "black"},
  "encoding": {"x": {"datum": 3.0944, "type": "quantitative", "axis": null}, "y": {"datum": -15.2, "type": "quantitative", "axis": null}}}
]
},
{
"width": 309, "height": 211,
"resolve": {"axis": {"x": "independent", "y": "independent"}},
"layer": [
 {"data": {"name": "p6"}, "mark": {"type": "errorbar", "color": "#0000ff", "thickness": 1.5},
  "encoding": {"x": {"field": "x", "type": "quantitative", "axis": null}, "y": {"field": "y", "type": "quantitative", "axis": null}, "yError": {"field": "e"}}},
 {"data": {"name": "p6"}, "mark": {"type": "point", "filled": true, "size": 32, "color": "#0000ff", "opacity": 1},
  "encoding": {
   "x": {"field": "x", "type": "quantitative", "scale": {"domain": [2.92, 3.1], "nice": false, "zero": false}, "axis": {"orient": "bottom", "values": [2.95,3,3.05], "format": "~r", "title": null, "tickSize": -7, "labelPadding": 11}},
   "y": {"field": "y", "type": "quantitative", "scale": {"domain": [0, 125], "nice": false, "zero": false}, "axis": {"orient": "left", "values": [0,20,40,60,80,100,120], "format": "~r", "title": "Entries / 3 MeV/c²", "titleFontSize": 24, "tickSize": -7, "labelPadding": 12, "titleX": -36, "titleY": 0, "titleAngle": 270, "titleAlign": "right", "titleBaseline": "alphabetic"}}
  }},
 {"data": {"name": "l6"}, "mark": {"type": "line", "color": "#ff0000", "strokeWidth": 2, "interpolate": "monotone"},
  "encoding": {
   "x": {"field": "x", "type": "quantitative", "axis": {"orient": "bottom", "values": [2.93,2.94,2.96,2.97,2.98,2.99,3.01,3.02,3.03,3.04,3.06,3.07,3.08,3.09,3.1], "labels": false, "domain": false, "tickSize": -4, "title": null}},
   "y": {"field": "y", "type": "quantitative", "axis": {"orient": "left", "values": [5,10,15,25,30,35,45,50,55,65,70,75,85,90,95,105,110,115,125], "labels": false, "domain": false, "tickSize": -4, "title": null}}
  }},
 {"data": {"values": [{}]}, "mark": {"type": "rect", "fill": "white", "stroke": "black", "strokeWidth": 1},
  "encoding": {"x": {"datum": 2.9293, "type": "quantitative", "axis": null}, "x2": {"datum": 3.0882}, "y": {"datum": 113.6, "type": "quantitative", "axis": null}, "y2": {"datum": 127.8}}},
 {"data": {"values": [{}]}, "mark": {"type": "text", "text": "Invariant mass:", "align": "left", "baseline": "alphabetic", "fontSize": 16.5, "fontWeight": "bold", "color": "black"},
  "encoding": {"x": {"datum": 2.9345, "type": "quantitative", "axis": null}, "y": {"datum": 116.5, "type": "quantitative", "axis": null}}},
 {"data": {"values": [{}]}, "mark": {"type": "text", "text": "3", "align": "left", "baseline": "alphabetic", "fontSize": 10, "fontWeight": "bold", "color": "black"},
  "encoding": {"x": {"datum": 3.001, "type": "quantitative", "axis": null}, "y": {"datum": 119.8, "type": "quantitative", "axis": null}}},
 {"data": {"values": [{}]}, "mark": {"type": "text", "text": "Λ", "align": "center", "baseline": "alphabetic", "fontSize": 10, "fontWeight": "bold", "color": "black"},
  "encoding": {"x": {"datum": 3.0019, "type": "quantitative", "axis": null}, "y": {"datum": 114.3, "type": "quantitative", "axis": null}}},
 {"data": {"values": [{}]}, "mark": {"type": "text", "text": "H\u00a0\u00a0→\u00a0p + d +\u00a0\u00a0\u00a0π⁻", "align": "left", "baseline": "alphabetic", "fontSize": 16.5, "fontWeight": "bold", "color": "black"},
  "encoding": {"x": {"datum": 3.0033, "type": "quantitative", "axis": null}, "y": {"datum": 116.5, "type": "quantitative", "axis": null}}},
 {"data": {"values": [{}]}, "mark": {"type": "text", "text": ["S/√S̅+̅B̅ = 11.1", "S/B = 6.1", "Eff. = 1.2%"], "lineHeight": 22.5, "align": "left", "baseline": "alphabetic", "fontSize": 17, "color": "#ff0000"},
  "encoding": {"x": {"datum": 2.9264, "type": "quantitative", "axis": null}, "y": {"datum": 65.6, "type": "quantitative", "axis": null}}},
 {"data": {"values": [{}]}, "mark": {"type": "text", "text": ["Peak\u00a0\u00a089.77", "Mean\u00a0\u00a02.993", "Sigma 0.0021"], "lineHeight": 22.5, "align": "left", "baseline": "alphabetic", "fontSize": 17, "color": "black"},
  "encoding": {"x": {"datum": 3.0252, "type": "quantitative", "axis": null}, "y": {"datum": 65.6, "type": "quantitative", "axis": null}}},
 {"data": {"values": [{}]}, "mark": {"type": "text", "text": "M", "align": "left", "baseline": "alphabetic", "fontSize": 19, "color": "black"},
  "encoding": {"x": {"datum": 3.0246, "type": "quantitative", "axis": null}, "y": {"datum": -18.4, "type": "quantitative", "axis": null}}},
 {"data": {"values": [{}]}, "mark": {"type": "text", "text": "(p+d+π⁻)", "align": "left", "baseline": "alphabetic", "fontSize": 12, "color": "black"},
  "encoding": {"x": {"datum": 3.0349, "type": "quantitative", "axis": null}, "y": {"datum": -21.7, "type": "quantitative", "axis": null}}},
 {"data": {"values": [{}]}, "mark": {"type": "text", "text": ", GeV/c²", "align": "right", "baseline": "alphabetic", "fontSize": 19, "color": "black"},
  "encoding": {"x": {"datum": 3.0988, "type": "quantitative", "axis": null}, "y": {"datum": -18.4, "type": "quantitative", "axis": null}}}
]
}
]
}
